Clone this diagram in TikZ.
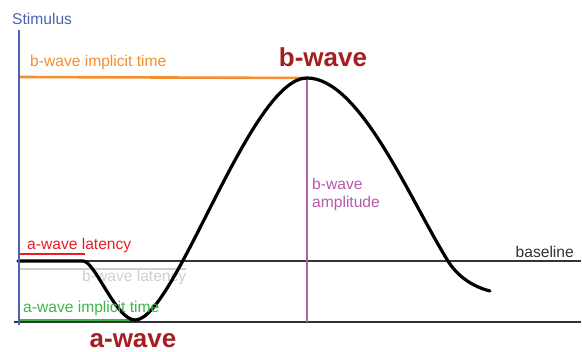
\documentclass[tikz,border=0pt]{standalone}
\usepackage{fontspec}
\setmainfont{Liberation Sans}
\definecolor{stimblue}{HTML}{4A62B0}
\definecolor{bimpl}{HTML}{F68D2E}
\definecolor{wavered}{HTML}{A51E22}
\definecolor{ampl}{HTML}{B65AAA}
\definecolor{alat}{HTML}{EC1C24}
\definecolor{aimpl}{HTML}{3DB54A}
\definecolor{blat}{HTML}{CDCFD1}
\definecolor{baseln}{HTML}{333333}
\begin{document}
\begin{tikzpicture}[x=1pt,y=-1pt,
  lbl/.style={anchor=base west,inner sep=0pt,font=\fontsize{15.6}{18}\selectfont},
  big/.style={anchor=base,inner sep=0pt,font=\fontsize{26}{30}\selectfont\bfseries,text=wavered},
  axisline/.style={baseln,line width=1.1pt},
  mark line/.style={line width=2.6pt},
  wave/.style={black,line width=3.2pt,line cap=round,line join=round}]
\useasboundingbox (0,0) rectangle (582,352);
% coordinates
\coordinate (stimtop) at (19,30);
\coordinate (stimbot) at (19,325);
\coordinate (blL) at (17,261);
\coordinate (blR) at (581,261);
\coordinate (botL) at (14,322);
\coordinate (botR) at (581,322);
\coordinate (w0) at (18,261);
\coordinate (w1) at (83,261);
\coordinate (wmin) at (135,320);
\coordinate (wpeak) at (307,78);
\coordinate (wcross) at (448,261);
\coordinate (wend) at (490,291);
\coordinate (orL) at (19,77);
\coordinate (puB) at (307,322);
\coordinate (redL) at (18,254);
\coordinate (redR) at (85,254);
\coordinate (grayL) at (18,269);
\coordinate (grayR) at (186,269);
\coordinate (grnL) at (18,320);
\coordinate (grnR) at (135,320);
% axes
\draw[axisline] (blL) -- (blR);
\draw[axisline] (botL) -- (botR);
% marker lines
\draw[mark line,blat] (grayL) -- (grayR);
\node[lbl,text=blat] (blatlbl) at (82,282) {b-wave latency};
\draw[mark line,bimpl] (orL) -- (wpeak);
\draw[mark line,ampl] (wpeak) -- (puB);
\draw[mark line,alat] (redL) -- (redR);
\draw[mark line,aimpl] (grnL) -- (grnR);
% wave
\draw[wave] (w0) -- (w1) .. controls (95,261) and (116,320) .. (wmin)
  .. controls (175,320) and (250,78) .. (wpeak)
  .. controls (360,78) and (410,200) .. (wcross)
  .. controls (456,274) and (470,286) .. (wend);
% stimulus line
\draw[mark line,stimblue] (stimtop) -- (stimbot);
% labels
\node[lbl,text=stimblue] (stim) at (12,25) {Stimulus};
\node[lbl,text=bimpl] (bimpllbl) at (30,67) {b-wave implicit time};
\node[big] (bwave) at (323,67) {b-wave};
\node[big] (awave) at (133,347.5) {a-wave};
\node[lbl,text=ampl] (ampllbl) at (312,190) {b-wave};
\node[lbl,text=ampl] (ampllbl2) at (312,208) {amplitude};
\node[lbl,text=alat] (alatlbl) at (27,250) {a-wave latency};
\node[lbl,text=aimpl] (aimpllbl) at (23,313) {a-wave implicit time};
\node[lbl,anchor=base east,text=baseln] (basel) at (574,258) {baseline};
\end{tikzpicture}
\end{document}
